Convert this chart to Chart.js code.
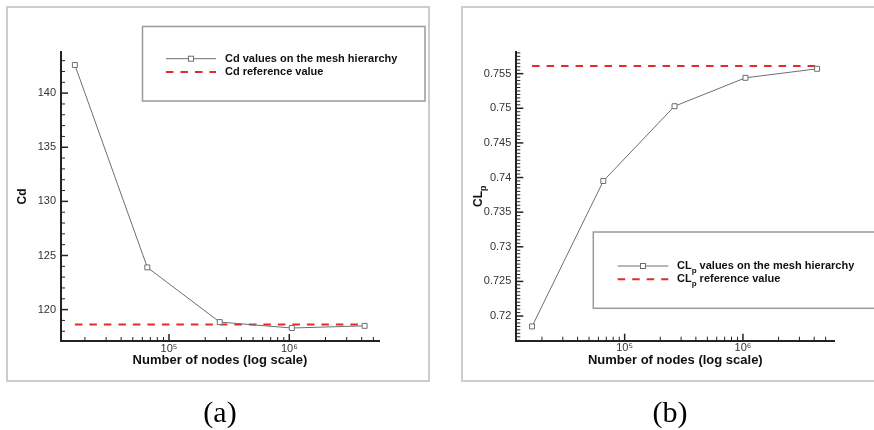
<!DOCTYPE html>
<html>
<head>
<meta charset="utf-8">
<script src="https://cdn.jsdelivr.net/npm/chart.js@4.4.1/dist/chart.umd.min.js"></script>
<style>
html, body { margin: 0; padding: 0; background: #fff; overflow: hidden; width: 874px; height: 430px; }
.panel { position: absolute; box-sizing: border-box; border: 2px solid #cdcdcd; }
canvas { position: absolute; top: 0; }
.cap { position: absolute; top: 397px; width: 100px; text-align: center; font: 30px "Liberation Serif", serif; line-height: 30px; color: #000; }
</style>
</head>
<body>
<div class="panel" style="left:6px;top:6px;width:424px;height:376px"></div>
<div class="panel" style="left:461px;top:6px;width:440px;height:376px"></div>
<canvas id="cd" width="440" height="400" style="left:0"></canvas>
<canvas id="clp" width="434" height="400" style="left:440px"></canvas>
<div class="cap" style="left:170px">(a)</div>
<div class="cap" style="left:620px">(b)</div>
<script>
// mesh hierarchy (number of nodes) and the two coefficients
let nodes = [16500, 66000, 264000, 1050000, 4230000];
let cdValues = [142.6, 123.9, 118.85, 118.3, 118.5];
let cdReference = 118.62;
let clpValues = [0.7185, 0.7395, 0.7503, 0.7544, 0.7557];
let clpReference = 0.7561;

let xMajorTicks = [1e5, 1e6];
let xTickLabels = ['10\u2075', '10\u2076'];
let cdMajorTicks = [120, 125, 130, 135, 140];
let cdTickLabels = ['120', '125', '130', '135', '140'];
let clpMajorTicks = [0.72, 0.725, 0.73, 0.735, 0.74, 0.745, 0.75, 0.755];
let clpTickLabels = ['0.72', '0.725', '0.73', '0.735', '0.74', '0.745', '0.75', '0.755'];

let xTitle = 'Number of nodes (log scale)';

const FONT = '"Liberation Sans", Arial, Helvetica, sans-serif';
const RED = '#e22b2b';
const GREY = '#6e6e6e';
const AXIS = '#222';

function logTicks(min, max) {
    let out = [];
    for (let d = 1e4; d <= 1e6; d *= 10) {
        for (let m = 1; m <= 9; m++) {
            let v = m * d;
            if (v > min && v < max) out.push(v);
        }
    }
    return out;
}

function linTicks(min, max, step) {
    let out = [];
    let k = Math.ceil(min / step);
    while (k * step < max) {
        out.push(Math.round(k * step / step) * step);
        k++;
    }
    return out;
}

function findLabel(v, majors, labels, tol) {
    for (let i = 0; i < majors.length; i++) {
        if (Math.abs(v - majors[i]) < tol) return labels[i];
    }
    return '';
}

// Tecplot style ticks, drawn inward from the axis lines
const inwardTicks = {
    id: 'inwardTicks',
    beforeDatasetsDraw(chart) {
        const { ctx, chartArea: a, scales: { x, y } } = chart;
        ctx.save();
        ctx.strokeStyle = AXIS;
        x.ticks.forEach(t => {
            const px = x.getPixelForValue(t.value);
            const major = t.label !== '';
            ctx.lineWidth = major ? 1.5 : 1;
            ctx.beginPath();
            ctx.moveTo(px, a.bottom);
            ctx.lineTo(px, a.bottom - (major ? 7 : 4));
            ctx.stroke();
        });
        y.ticks.forEach(t => {
            const py = y.getPixelForValue(t.value);
            const major = t.label !== '';
            ctx.lineWidth = major ? 1.5 : 1;
            ctx.beginPath();
            ctx.moveTo(a.left, py);
            ctx.lineTo(a.left + (major ? 7 : 4), py);
            ctx.stroke();
        });
        ctx.restore();
    }
};

function drawSubText(ctx, x, y, base, sub, rest, size) {
    ctx.font = 'bold ' + size + 'px ' + FONT;
    ctx.fillText(base, x, y);
    x += ctx.measureText(base).width;
    if (sub) {
        ctx.font = 'bold ' + Math.round(size * 0.72) + 'px ' + FONT;
        ctx.fillText(sub, x, y + size * 0.42);
        x += ctx.measureText(sub).width;
        ctx.font = 'bold ' + size + 'px ' + FONT;
    }
    if (rest) ctx.fillText(rest, x, y);
}

function subWidth(ctx, base, sub, size) {
    ctx.font = 'bold ' + size + 'px ' + FONT;
    let w = ctx.measureText(base).width;
    ctx.font = 'bold ' + Math.round(size * 0.72) + 'px ' + FONT;
    return w + ctx.measureText(sub).width;
}

const boxLegend = {
    id: 'boxLegend',
    afterDraw(chart, args, o) {
        const ctx = chart.ctx;
        ctx.save();
        ctx.strokeStyle = '#9a9a9a';
        ctx.lineWidth = 1.5;
        ctx.strokeRect(o.box[0], o.box[1], o.box[2] - o.box[0], o.box[3] - o.box[1]);
        ctx.textAlign = 'left';
        ctx.textBaseline = 'middle';
        ctx.fillStyle = '#111';
        o.items.forEach((it, i) => {
            const yy = o.rows[i];
            ctx.beginPath();
            if (i === 0) {
                ctx.strokeStyle = GREY; ctx.lineWidth = 1; ctx.setLineDash([]);
            } else {
                ctx.strokeStyle = RED; ctx.lineWidth = 2; ctx.setLineDash([7.5, 7]);
            }
            ctx.moveTo(o.line[0], yy);
            ctx.lineTo(o.line[1], yy);
            ctx.stroke();
            ctx.setLineDash([]);
            if (i === 0) {
                const mx = (o.line[0] + o.line[1]) / 2;
                ctx.fillStyle = '#fff';
                ctx.fillRect(mx - 2.5, yy - 2.5, 5, 5);
                ctx.strokeStyle = GREY; ctx.lineWidth = 1;
                ctx.strokeRect(mx - 2.5, yy - 2.5, 5, 5);
                ctx.fillStyle = '#111';
            }
            drawSubText(ctx, o.textX, yy, it[0], it[1], it[2], 11);
        });
        ctx.restore();
    }
};

// rotated y-axis title with a subscript
const subTitle = {
    id: 'subTitle',
    afterDraw(chart, args, o) {
        if (!o.base) return;
        const { ctx, chartArea: a } = chart;
        ctx.save();
        ctx.fillStyle = '#111';
        ctx.textAlign = 'left';
        ctx.textBaseline = 'middle';
        ctx.translate(o.x, (a.top + a.bottom) / 2);
        ctx.rotate(-Math.PI / 2);
        const w = subWidth(ctx, o.base, o.sub, 12);
        drawSubText(ctx, -w / 2, 0, o.base, o.sub, '', 12);
        ctx.restore();
    }
};

function buildChart(id, o) {
    const tickFont = { family: FONT, size: 11 };
    return new Chart(document.getElementById(id), {
        type: 'scatter',
        data: {
            datasets: [{
                data: nodes.map((n, i) => ({ x: n, y: o.values[i] })),
                showLine: true,
                borderColor: GREY,
                borderWidth: 1,
                pointStyle: 'rect',
                pointRadius: 3.5,
                pointBackgroundColor: '#fff',
                pointBorderColor: GREY,
                pointBorderWidth: 1
            }, {
                data: [{ x: nodes[0], y: o.ref }, { x: nodes[nodes.length - 1], y: o.ref }],
                showLine: true,
                borderColor: RED,
                borderWidth: 2,
                borderDash: [7.5, 7],
                pointRadius: 0
            }]
        },
        options: {
            responsive: false,
            animation: false,
            events: [],
            layout: { padding: { left: 0, top: o.area.top, right: o.width - o.area.right, bottom: 0 } },
            plugins: {
                legend: { display: false },
                tooltip: { enabled: false },
                boxLegend: o.legend,
                subTitle: o.subTitle || {}
            },
            scales: {
                x: {
                    type: 'logarithmic',
                    min: o.xMin,
                    max: o.xMax,
                    afterFit: s => { s.height = 400 - o.area.bottom; },
                    afterBuildTicks: s => { s.ticks = logTicks(o.xMin, o.xMax).map(v => ({ value: v })); },
                    grid: { display: false, drawTicks: false },
                    border: { display: true, color: AXIS, width: 2 },
                    ticks: {
                        autoSkip: false, maxRotation: 0, padding: 1, color: '#333', font: tickFont,
                        callback: v => findLabel(v, xMajorTicks, xTickLabels, 1)
                    },
                    title: {
                        display: true, text: xTitle, color: '#111',
                        font: { family: FONT, size: 13, weight: 'bold' },
                        padding: { top: 0, bottom: 31.5 }
                    }
                },
                y: {
                    min: o.yMin,
                    max: o.yMax,
                    afterFit: s => { s.width = o.area.left; },
                    afterBuildTicks: s => { s.ticks = o.yTicks.map(v => ({ value: v })); },
                    grid: { display: false, drawTicks: false },
                    border: { display: true, color: AXIS, width: 2 },
                    ticks: {
                        autoSkip: false, padding: 5, color: '#333', font: tickFont,
                        callback: v => findLabel(v, o.majors, o.labels, o.tol)
                    },
                    title: {
                        display: !!o.yTitle, text: o.yTitle || '', color: '#111',
                        font: { family: FONT, size: 12, weight: 'bold' },
                        padding: { top: 15.8, bottom: 0 }
                    }
                }
            }
        },
        plugins: [inwardTicks, boxLegend, subTitle]
    });
}

buildChart('cd', {
    width: 440,
    area: { left: 61, top: 52, right: 379, bottom: 341 },
    values: cdValues, ref: cdReference,
    xMin: 12650, xMax: 5570000,
    yMin: 117.1, yMax: 143.8,
    yTicks: linTicks(117.1, 143.8, 1),
    majors: cdMajorTicks, labels: cdTickLabels, tol: 0.01,
    yTitle: 'Cd',
    legend: {
        box: [142.5, 26.5, 425, 101],
        line: [166, 216], rows: [58.7, 72], textX: 225,
        items: [['Cd', '', ' values on the mesh hierarchy'], ['Cd', '', ' reference value']]
    }
});

buildChart('clp', {
    width: 434,
    area: { left: 76.3, top: 51.7, right: 394.3, bottom: 340.7 },
    values: clpValues, ref: clpReference,
    xMin: 12140, xMax: 5915000,
    yMin: 0.71644, yMax: 0.75817,
    yTicks: linTicks(0.71644, 0.75817, 0.0005).map(v => Math.round(v * 20000) / 20000),
    majors: clpMajorTicks, labels: clpTickLabels, tol: 0.0001,
    subTitle: { x: 38.3, base: 'CL', sub: 'p' },
    legend: {
        box: [153.3, 232, 440, 308.3],
        line: [177.7, 228.3], rows: [266, 279.3], textX: 237,
        items: [['CL', 'p', ' values on the mesh hierarchy'], ['CL', 'p', ' reference value']]
    }
});
</script>
</body>
</html>
